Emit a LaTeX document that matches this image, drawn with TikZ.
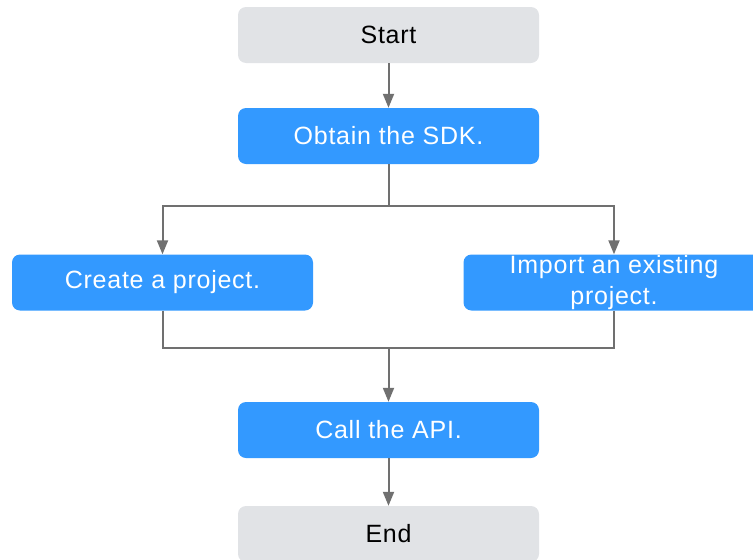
\documentclass[tikz,border=0pt]{standalone}
\usepackage{fontspec}
\setmainfont{Liberation Sans}[LetterSpace=3]
\usetikzlibrary{arrows.meta}
\definecolor{boxgray}{HTML}{E1E3E6}
\definecolor{boxblue}{HTML}{3399FF}
\definecolor{linegray}{HTML}{707070}
\begin{document}
\begin{tikzpicture}[x=1pt,y=-1pt,
  base/.style={rounded corners=8pt,minimum width=301pt,minimum height=56pt,inner sep=0pt,font=\fontsize{25}{31}\selectfont,align=center},
  graybox/.style={base,fill=boxgray,text=black},
  bluebox/.style={base,fill=boxblue,text=white},
  conn/.style={draw=linegray,line width=2pt},
  arr/.style={conn,-{Triangle[width=11pt,length=14pt]}}]
\useasboundingbox (0,0) rectangle (753,560);
\clip (0,0) rectangle (753,560);
\node[graybox] (start) at (388.5,35) {Start};
\node[bluebox] (sdk) at (388.5,136) {Obtain the SDK.};
\node[bluebox] (create) at (162.5,282.5) {Create a project.};
\node[bluebox] (import) at (614,282.5) {Import an existing\\project.};
\node[bluebox] (api) at (388.5,430) {Call the API.};
\node[graybox] (end) at (388.5,534) {End};
\coordinate (split) at (388.5,206);
\coordinate (join) at (388.5,348);
\draw[arr] (start) -- (sdk);
\draw[conn] (sdk) -- (split);
\draw[arr] (split) -| (create);
\draw[arr] (split) -| (import);
\draw[conn] (create) |- (join);
\draw[conn] (import) |- (join);
\draw[arr] (join) -- (api);
\draw[arr] (api) -- (end);
\end{tikzpicture}
\end{document}
